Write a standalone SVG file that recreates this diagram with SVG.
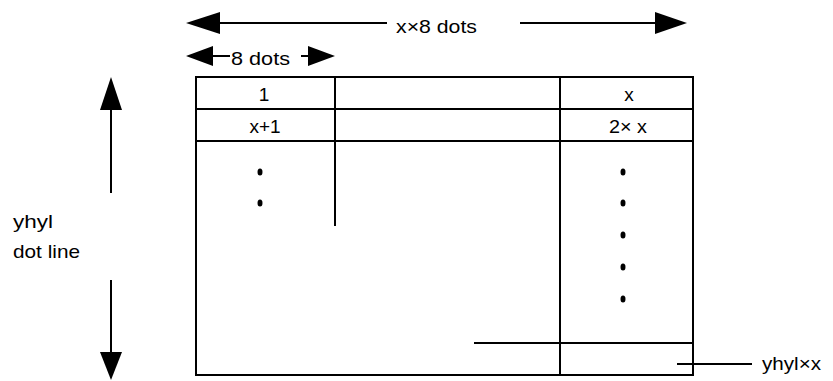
<svg xmlns="http://www.w3.org/2000/svg" width="833" height="381" viewBox="0 0 833 381">
  <style>
    .ln { stroke: #000; stroke-width: 2; fill: none; }
    .hd { fill: #000; stroke: none; }
    .dot { fill: #000; }
    text { font-family: "Liberation Sans", Arial, sans-serif; font-size: 19px; fill: #000; }
    .c { text-anchor: middle; }
  </style>

  <!-- width dimension: x×8 dots -->
  <g id="dim-width">
    <line class="ln" x1="218" y1="23" x2="387" y2="23"/>
    <line class="ln" x1="520" y1="23" x2="657" y2="23"/>
    <polygon class="hd" points="186,23 220,12 220,34"/>
    <polygon class="hd" points="687,23 655,12 655,34"/>
    <text x="396" y="33" textLength="81" lengthAdjust="spacingAndGlyphs">x×8 dots</text>
  </g>

  <!-- byte width dimension: 8 dots -->
  <g id="dim-byte">
    <line class="ln" x1="211" y1="56" x2="230" y2="56"/>
    <line class="ln" x1="301" y1="56" x2="310" y2="56"/>
    <polygon class="hd" points="186,56 213,46 213,66"/>
    <polygon class="hd" points="335,56 308,46 308,66"/>
    <text x="231" y="65" textLength="59" lengthAdjust="spacingAndGlyphs">8 dots</text>
  </g>

  <!-- height dimension: yhyl dot line -->
  <g id="dim-height">
    <line class="ln" x1="111" y1="108" x2="111" y2="193"/>
    <line class="ln" x1="111" y1="280" x2="111" y2="354"/>
    <polygon class="hd" points="111,77 100,110 122,110"/>
    <polygon class="hd" points="111,380 100,352 122,352"/>
    <text x="13" y="228" textLength="40" lengthAdjust="spacingAndGlyphs">yhyl</text>
    <text x="13" y="258" textLength="67" lengthAdjust="spacingAndGlyphs">dot line</text>
  </g>

  <!-- memory grid -->
  <g id="grid">
    <line class="ln" x1="196" y1="77" x2="693" y2="77"/>
    <line class="ln" x1="196" y1="109" x2="693" y2="109"/>
    <line class="ln" x1="196" y1="141" x2="693" y2="141"/>
    <line class="ln" x1="196" y1="375" x2="693" y2="375"/>
    <line class="ln" x1="196" y1="76" x2="196" y2="376"/>
    <line class="ln" x1="693" y1="76" x2="693" y2="376"/>
    <line class="ln" x1="335" y1="77" x2="335" y2="226"/>
    <line class="ln" x1="560" y1="77" x2="560" y2="375"/>
    <line class="ln" x1="474" y1="343" x2="693" y2="343"/>
  </g>

  <g id="cell-1"><text class="c" x="264" y="101">1</text></g>
  <g id="cell-x"><text class="c" x="629" y="101">x</text></g>
  <g id="cell-x1"><text class="c" x="265" y="133">x+1</text></g>
  <g id="cell-2x"><text class="c" x="628" y="133" textLength="38" lengthAdjust="spacingAndGlyphs">2× x</text></g>

  <!-- continuation dots -->
  <g id="dots-left">
    <ellipse class="dot" cx="260" cy="172" rx="2.5" ry="3.5"/>
    <ellipse class="dot" cx="260" cy="203" rx="2.5" ry="3.5"/>
  </g>
  <g id="dots-right">
    <ellipse class="dot" cx="623" cy="172" rx="2.5" ry="3.5"/>
    <ellipse class="dot" cx="623" cy="203" rx="2.5" ry="3.5"/>
    <ellipse class="dot" cx="623" cy="235" rx="2.5" ry="3.5"/>
    <ellipse class="dot" cx="623" cy="267" rx="2.5" ry="3.5"/>
    <ellipse class="dot" cx="623" cy="299" rx="2.5" ry="3.5"/>
  </g>

  <!-- last cell callout -->
  <g id="callout-last">
    <line class="ln" x1="677" y1="364" x2="752" y2="364"/>
    <text x="762" y="370" textLength="59" lengthAdjust="spacingAndGlyphs">yhyl×x</text>
  </g>
</svg>
